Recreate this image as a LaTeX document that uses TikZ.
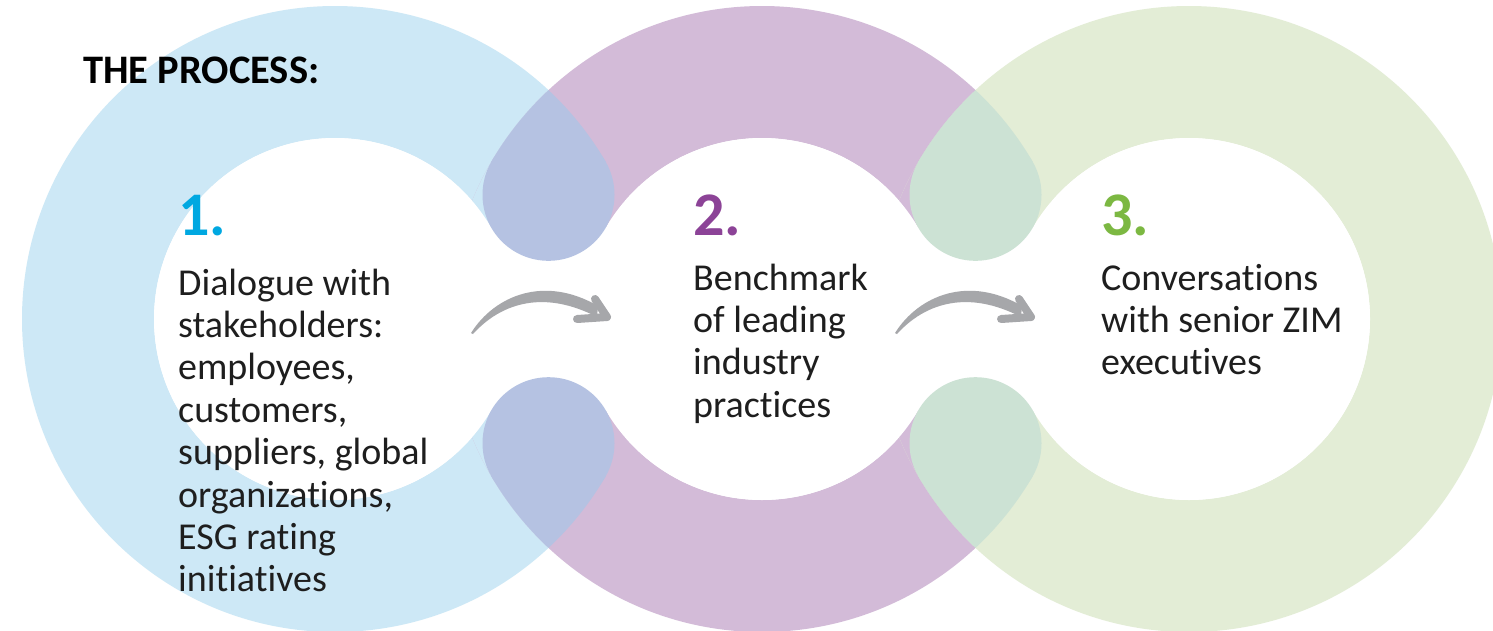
\documentclass[tikz,border=0pt]{standalone}
\usepackage{fontspec}
\setmainfont[Ligatures={NoCommon,NoDiscretionary,NoContextual}]{Carlito}
\definecolor{bandA}{HTML}{CDE8F6}
\definecolor{bandB}{HTML}{D3BBD8}
\definecolor{bandC}{HTML}{E3EDD6}
\definecolor{ovAB}{HTML}{B5C2E2}
\definecolor{ovBC}{HTML}{CCE2D4}
\definecolor{numA}{HTML}{00A8E1}
\definecolor{numB}{HTML}{8C4397}
\definecolor{numC}{HTML}{7CB842}
\definecolor{ink}{HTML}{1E1E1E}
\definecolor{arrowgray}{HTML}{A6A7AA}
\begin{document}
\begin{tikzpicture}[x=1pt,y=-1pt,
  txt/.style={anchor=base west,inner sep=0pt,text=ink,font=\fontsize{38}{42}\selectfont},
  numlabel/.style={anchor=base west,inner sep=0pt,font=\fontsize{62}{62}\selectfont\bfseries},
  titletext/.style={anchor=base west,inner sep=0pt,text=black,font=\fontsize{40.5}{40}\selectfont\bfseries},
  brusharrow/.pic={
    \fill[arrowgray] (471,333) .. controls (495,295) and (545,275) .. (598,306)
       -- (597,317) .. controls (545,290) and (502,302) .. (473,334) -- cycle;
    \draw[arrowgray,line width=8pt,line cap=round,line join=round] (595,299) -- (607,317) -- (577,319);
  }]
\useasboundingbox (0,0) rectangle (1493,630);
\clip (0,0) rectangle (1493,630);
\fill[white] (0,0) rectangle (1493,630);
\coordinate (c1) at (335,319);
\coordinate (c2) at (762,319);
\coordinate (c3) at (1189,319);
% bands
\fill[bandA,even odd rule] (c1) circle[radius=313] (c1) circle[radius=181];
\fill[bandB,even odd rule] (c2) circle[radius=313] (c2) circle[radius=181];
\fill[bandC,even odd rule] (c3) circle[radius=313] (c3) circle[radius=181];
% lens sides
\begin{scope}
  \clip (c1) circle[radius=313];
  \clip (c2) circle[radius=313];
  \fill[bandA] (400,0) rectangle (548.5,630);
  \fill[bandB] (548.5,0) rectangle (700,630);
\end{scope}
\begin{scope}
  \clip (c2) circle[radius=313];
  \clip (c3) circle[radius=313];
  \fill[bandB] (827,0) rectangle (975.5,630);
  \fill[bandC] (975.5,0) rectangle (1127,630);
\end{scope}
% white holes and necks
\fill[white] (c1) circle[radius=181] (c2) circle[radius=181] (c3) circle[radius=181];
\fill[white] (491.45,194.8) rectangle (605.55,443.2);
\fill[white] (918.45,194.8) rectangle (1032.55,443.2);
% teardrops
\begin{scope}
  \clip (c1) circle[radius=313];
  \clip (c2) circle[radius=313];
  \fill[ovAB] (400,0) rectangle (700,161.6);
  \fill[ovAB] (400,476.4) rectangle (700,630);
\end{scope}
\fill[ovAB] (548.5,194.8) circle[radius=66] (548.5,443.2) circle[radius=66];
\begin{scope}
  \clip (c2) circle[radius=313];
  \clip (c3) circle[radius=313];
  \fill[ovBC] (827,0) rectangle (1127,161.6);
  \fill[ovBC] (827,476.4) rectangle (1127,630);
\end{scope}
\fill[ovBC] (975.5,194.8) circle[radius=66] (975.5,443.2) circle[radius=66];
% arrows
\pic (arrowA) at (0,0) {brusharrow};
\pic (arrowB) at (424,0) {brusharrow};
% texts
\node[titletext] (title) at (83,83) {THE PROCESS:};
\node[numlabel,text=numA] (n1) at (178,235) {1.};
\node[numlabel,text=numB] (n2) at (693,235) {2.};
\node[numlabel,text=numC] (n3) at (1101,235) {3.};
\foreach \s [count=\i] in {Dialogue with, stakeholders:, {employees,}, {customers,}, {suppliers, global}, {organizations,}, ESG rating, initiatives}
  \node[txt] (ta\i) at (178,{295+42.4*(\i-1)}) {\s};
\foreach \s [count=\i] in {Benchmark, of leading, industry, practices}
  \node[txt] (tb\i) at (693,{290+42.4*(\i-1)}) {\s};
\foreach \s [count=\i] in {Conversations, with senior ZIM, executives}
  \node[txt] (tc\i) at (1101,{290+42.4*(\i-1)}) {\s};
\end{tikzpicture}
\end{document}
